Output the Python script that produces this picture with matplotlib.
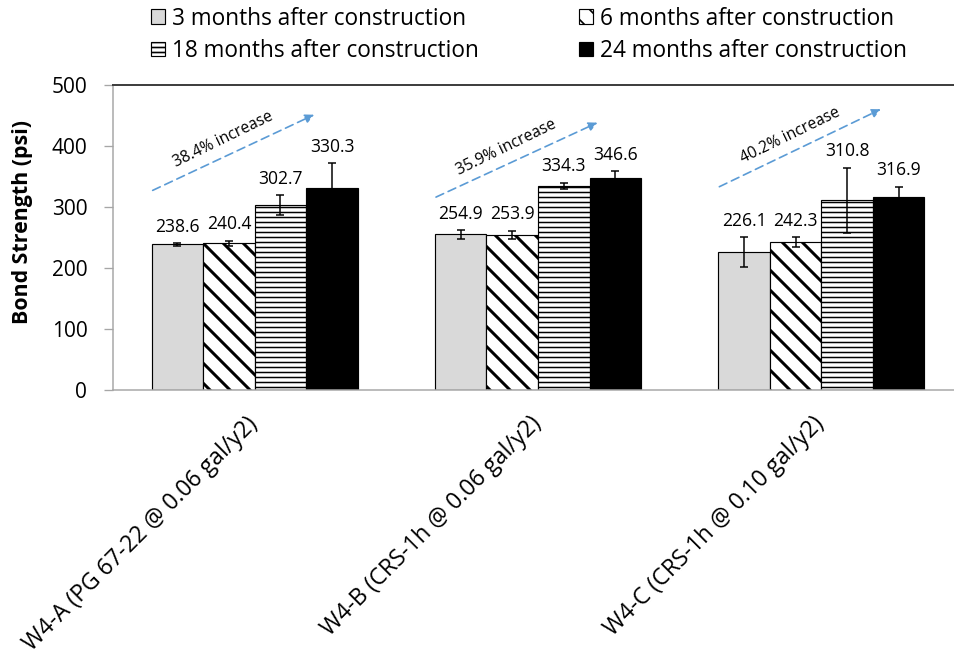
import matplotlib.pyplot as plt
import numpy as np

# Data
groups = ['W4-A (PG 67-22 @ 0.06 gal/y2)', 'W4-B (CRS-1h @ 0.06 gal/y2)', 'W4-C (CRS-1h @ 0.10 gal/y2)']
series = ['3 months after construction', '6 months after construction',
          '18 months after construction', '24 months after construction']
m3 = [238.6, 254.9, 226.1]
m6 = [240.4, 253.9, 242.3]
m18 = [302.7, 334.3, 310.8]
m24 = [330.3, 346.6, 316.9]
err3 = [2, 7, 24]
err6 = [4, 7, 8]
err18 = [16, 5, 53]
err24 = [41, 12, 16]
increase = ['38.4% increase', '35.9% increase', '40.2% increase']

# Style
plt.rcParams['font.family'] = ['Open Sans', 'DejaVu Sans']
face = ['#d9d9d9', 'white', 'white', 'black']
hatch = [None, '\\\\', '----', None]
hatch_lw = [1.0, 1.8, 0.9, 1.0]
arrow_blue = '#5b9bd5'

fig = plt.figure(figsize=(954 / 120, 661.2 / 120), dpi=120)
ax = fig.add_axes([113 / 954, 271 / 661, 850 / 954, 305 / 661])

x = np.arange(len(groups))
w = 0.182
handles = []
for k, (vals, errs) in enumerate(zip([m3, m6, m18, m24], [err3, err6, err18, err24])):
    pos = x + (k - 1.5) * w
    with plt.rc_context({'hatch.linewidth': hatch_lw[k]}):
        bars = ax.bar(pos, vals, w, yerr=errs, color=face[k], edgecolor='black',
                      linewidth=0.7, hatch=hatch[k], label=series[k],
                      error_kw=dict(ecolor='black', elinewidth=0.9, capsize=2.4, capthick=0.9))
    handles.append(bars)
    # value labels above the error bars
    for xi, v, e in zip(pos, vals, errs):
        ax.annotate(f'{v:.1f}', (xi, v + e), xytext=(0, 7), textcoords='offset points',
                    ha='center', va='baseline', fontsize=10.5)

# "increase" arrows
arrow_y0 = [327, 316, 333]
arrow_y1 = [451, 438, 460]
for i in x:
    x0, x1 = i - 0.36, i + 0.21
    ax.annotate('', xy=(x1, arrow_y1[i]), xytext=(x0, arrow_y0[i]),
                arrowprops=dict(arrowstyle='-|>', color=arrow_blue, lw=1.0,
                                linestyle=(0, (5, 3)), mutation_scale=11,
                                shrinkA=0, shrinkB=0))
    ax.annotate(increase[i], ((x0 + x1) / 2, (arrow_y0[i] + arrow_y1[i]) / 2),
                xytext=(-10, 13), textcoords='offset pixels', rotation=26,
                rotation_mode='anchor', ha='center', va='center', fontsize=9.4)

# Category labels, rotated 45 degrees like Excel
for i, lab in enumerate(groups):
    ax.annotate(lab, (x[i], 0), xytext=(-9, -22), textcoords='offset pixels',
                rotation=45, rotation_mode='anchor', ha='right', va='top',
                fontsize=13.8, annotation_clip=False)

ax.set_xlim(-0.5, 2.5)
ax.set_ylim(0, 500)
ax.set_yticks(np.arange(0, 501, 100))
ax.set_xticks([])
ax.tick_params(axis='y', colors='#a6a6a6', length=5.4, width=0.8, pad=10,
               labelsize=12.5, labelcolor='black')
ax.spines['right'].set_visible(False)
ax.spines['top'].set_color('#404040')
ax.spines['top'].set_linewidth(1.2)
for s in ['left', 'bottom']:
    ax.spines[s].set_color('#a6a6a6')
    ax.spines[s].set_linewidth(0.9)

ax.set_ylabel('Bond Strength (psi)', fontweight='bold', fontsize=12.8)
ax.yaxis.set_label_coords(-0.094, 0.551)

# Legend: two columns placed separately
leg_kw = dict(loc='upper left', frameon=False, fontsize=13.6, handlelength=0.62,
              handleheight=0.62, handletextpad=0.3, labelspacing=0.36,
              borderpad=0, borderaxespad=0)
fig.legend([handles[0], handles[2]], [series[0], series[2]],
           bbox_to_anchor=(151 / 954, 1 - 7 / 661), **leg_kw)
fig.legend([handles[1], handles[3]], [series[1], series[3]],
           bbox_to_anchor=(579 / 954, 1 - 7 / 661), **leg_kw)

fig.savefig('out.png', dpi=120)
